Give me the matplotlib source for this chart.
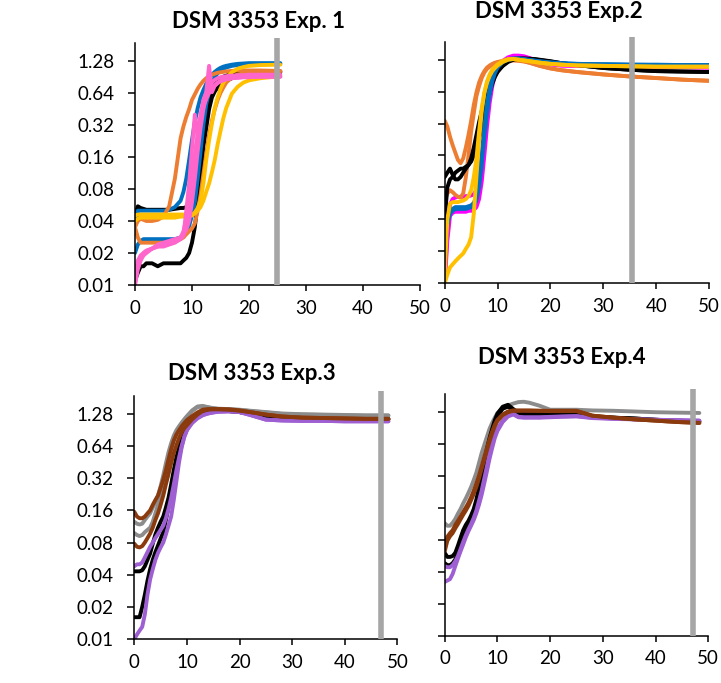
import numpy as np
import matplotlib
matplotlib.use("Agg")
import matplotlib.pyplot as plt

plt.rcParams['font.family'] = ['Lato', 'DejaVu Sans']

# Colours (Excel palette)
BLACK = "#000000"
BLUE = "#0070C0"
ORANGE = "#ED7D31"
GOLD = "#FFC000"
PINK = "#FF66CC"
MAGENTA = "#FF00FF"
GRAY = "#8C8C8C"
BROWN = "#8B3A0E"
PURPLE = "#9E5FD2"
BAR = "#A6A6A6"

# ---------------- Exp. 1 ----------------
t1 = [0, 0.5, 1, 1.5, 2, 3, 4, 5, 6, 7, 8, 8.5, 9, 9.5, 10, 10.5, 11, 11.5, 12, 12.5,
      13, 13.5, 14, 14.5, 15, 15.5, 16, 17, 18, 19, 20, 22, 25.5]
e1_black_a = [0.011, 0.013, 0.015, 0.015, 0.016, 0.016, 0.015, 0.016, 0.016, 0.016, 0.016, 0.017, 0.018,
              0.02, 0.025, 0.035, 0.06, 0.11, 0.2, 0.3, 0.45, 0.58, 0.66, 0.72, 0.77, 0.8, 0.83,
              0.88, 0.91, 0.94, 0.96, 0.98, 1.0]
e1_black_b = [0.045, 0.055, 0.053, 0.052, 0.051, 0.051, 0.051, 0.051, 0.051, 0.052, 0.053, 0.053, 0.054,
              0.055, 0.057, 0.065, 0.085, 0.15, 0.24, 0.42, 0.58, 0.7, 0.78, 0.84, 0.88, 0.91, 0.93,
              0.96, 0.98, 1.0, 1.01, 1.02, 1.02]
e1_blue_a = [0.035, 0.05, 0.05, 0.05, 0.05, 0.05, 0.05, 0.05, 0.051, 0.054, 0.062, 0.075, 0.1,
             0.15, 0.23, 0.34, 0.46, 0.58, 0.68, 0.78, 0.87, 0.95, 1.01, 1.06, 1.1, 1.13, 1.15,
             1.18, 1.2, 1.21, 1.22, 1.22, 1.22]
e1_blue_b = [0.02, 0.024, 0.026, 0.027, 0.027, 0.027, 0.027, 0.027, 0.027, 0.027, 0.028, 0.029, 0.031,
             0.036, 0.045, 0.06, 0.1, 0.18, 0.32, 0.5, 0.66, 0.8, 0.9, 0.98, 1.04, 1.08, 1.11,
             1.15, 1.17, 1.19, 1.2, 1.2, 1.2]
e1_orange_a = [0.035, 0.04, 0.042, 0.041, 0.04, 0.04, 0.041, 0.044, 0.055, 0.1, 0.24, 0.31, 0.38,
               0.45, 0.55, 0.62, 0.7, 0.77, 0.83, 0.88, 0.92, 0.95, 0.97, 0.99, 1.0, 1.01, 1.02,
               1.03, 1.04, 1.04, 1.04, 1.04, 1.03]
e1_orange_b = [0.035, 0.028, 0.025, 0.025, 0.025, 0.025, 0.025, 0.025, 0.025, 0.026, 0.027, 0.028, 0.03,
               0.032, 0.034, 0.038, 0.05, 0.07, 0.11, 0.17, 0.26, 0.35, 0.45, 0.55, 0.64, 0.72, 0.8,
               0.9, 0.95, 0.98, 1.0, 1.01, 1.02]
e1_gold_a = [0.045, 0.046, 0.046, 0.046, 0.046, 0.046, 0.046, 0.046, 0.046, 0.046, 0.046, 0.046, 0.046,
             0.046, 0.046, 0.047, 0.05, 0.054, 0.062, 0.075, 0.09, 0.115, 0.15, 0.21, 0.28, 0.37, 0.46,
             0.63, 0.73, 0.8, 0.84, 0.88, 0.92]
e1_gold_b = [0.04, 0.042, 0.043, 0.043, 0.043, 0.043, 0.043, 0.043, 0.043, 0.043, 0.044, 0.044, 0.044,
             0.045, 0.045, 0.048, 0.053, 0.062, 0.09, 0.15, 0.23, 0.33, 0.46, 0.58, 0.7, 0.8, 0.88,
             1.0, 1.08, 1.12, 1.15, 1.17, 1.18]
e1_pink_a = [0.01, 0.016, 0.018, 0.02, 0.021, 0.022, 0.023, 0.023, 0.024, 0.025, 0.027, 0.029, 0.05,
             0.09, 0.19, 0.4, 0.25, 0.4, 0.55, 0.65, 1.15, 0.65, 0.75, 0.8, 0.83, 0.85, 0.87,
             0.88, 0.89, 0.9, 0.9, 0.91, 0.91]
e1_pink_b = [0.012, 0.017, 0.019, 0.02, 0.021, 0.022, 0.023, 0.024, 0.025, 0.026, 0.028, 0.032, 0.042,
             0.065, 0.11, 0.17, 0.27, 0.37, 0.48, 0.56, 0.64, 0.7, 0.75, 0.79, 0.82, 0.84, 0.86,
             0.88, 0.89, 0.9, 0.9, 0.91, 0.91]
e1_pink_c = [0.01, 0.014, 0.017, 0.019, 0.02, 0.022, 0.024, 0.025, 0.026, 0.027, 0.028, 0.03, 0.033,
             0.04, 0.06, 0.1, 0.18, 0.3, 0.45, 0.6, 0.72, 0.8, 0.85, 0.88, 0.9, 0.91, 0.92,
             0.93, 0.94, 0.94, 0.95, 0.95, 0.95]

# ---------------- Exp. 2 ----------------
t2 = [0, 0.5, 1, 1.5, 2, 2.5, 3, 3.5, 4, 4.5, 5, 5.5, 6, 6.5, 7, 7.5, 8, 8.5, 9, 9.5, 10,
      11, 12, 13, 14, 15, 16, 17, 18, 20, 22, 25, 30, 35, 40, 45, 50]
e2_magenta_a = [0.012, 0.03, 0.055, 0.062, 0.064, 0.065, 0.065, 0.065, 0.066, 0.066, 0.067, 0.069, 0.075,
                0.095, 0.15, 0.26, 0.42, 0.62, 0.82, 0.98, 1.1, 1.25, 1.35, 1.4, 1.4, 1.38, 1.33,
                1.27, 1.22, 1.16, 1.13, 1.12, 1.11, 1.1, 1.09, 1.09, 1.08]
e2_magenta_b = [0.01, 0.025, 0.043, 0.046, 0.047, 0.047, 0.047, 0.047, 0.047, 0.048, 0.048, 0.049, 0.052,
                0.062, 0.09, 0.16, 0.3, 0.5, 0.72, 0.92, 1.06, 1.22, 1.32, 1.38, 1.38, 1.36, 1.32,
                1.27, 1.22, 1.16, 1.13, 1.12, 1.11, 1.1, 1.09, 1.09, 1.08]
e2_orange_a = [0.34, 0.3, 0.24, 0.2, 0.17, 0.145, 0.135, 0.15, 0.19, 0.25, 0.34, 0.48, 0.63,
               0.78, 0.9, 1.0, 1.08, 1.13, 1.17, 1.2, 1.22, 1.25, 1.27, 1.27, 1.26, 1.24, 1.2,
               1.16, 1.12, 1.06, 1.02, 0.98, 0.93, 0.89, 0.86, 0.83, 0.81]
e2_orange_b = [0.06, 0.07, 0.075, 0.072, 0.068, 0.065, 0.064, 0.07, 0.1, 0.16, 0.27, 0.4, 0.58,
               0.72, 0.86, 0.97, 1.05, 1.1, 1.15, 1.18, 1.2, 1.23, 1.25, 1.26, 1.25, 1.23, 1.2,
               1.16, 1.12, 1.06, 1.02, 0.98, 0.93, 0.89, 0.86, 0.83, 0.81]
e2_black_a = [0.1, 0.11, 0.12, 0.105, 0.095, 0.095, 0.1, 0.11, 0.12, 0.13, 0.14, 0.16, 0.19,
              0.23, 0.29, 0.38, 0.5, 0.62, 0.76, 0.88, 0.98, 1.13, 1.25, 1.3, 1.32, 1.32, 1.31,
              1.3, 1.28, 1.24, 1.19, 1.14, 1.07, 1.03, 1.0, 0.99, 0.98]
e2_black_b = [0.04, 0.08, 0.095, 0.1, 0.11, 0.115, 0.12, 0.12, 0.125, 0.13, 0.15, 0.19, 0.25,
              0.33, 0.42, 0.52, 0.62, 0.72, 0.82, 0.92, 1.0, 1.12, 1.22, 1.28, 1.3, 1.3, 1.3,
              1.29, 1.27, 1.23, 1.19, 1.14, 1.07, 1.03, 1.0, 0.99, 0.98]
e2_blue_a = [0.015, 0.035, 0.045, 0.048, 0.05, 0.05, 0.05, 0.05, 0.05, 0.051, 0.052, 0.054, 0.06,
             0.08, 0.13, 0.24, 0.4, 0.6, 0.8, 0.96, 1.08, 1.22, 1.3, 1.32, 1.32, 1.3, 1.28,
             1.26, 1.24, 1.21, 1.19, 1.17, 1.16, 1.15, 1.14, 1.14, 1.14]
e2_blue_b = [0.02, 0.04, 0.048, 0.05, 0.052, 0.052, 0.052, 0.052, 0.052, 0.053, 0.054, 0.057, 0.065,
             0.09, 0.16, 0.3, 0.5, 0.7, 0.88, 1.0, 1.1, 1.22, 1.28, 1.3, 1.3, 1.29, 1.27,
             1.25, 1.23, 1.2, 1.18, 1.17, 1.16, 1.15, 1.15, 1.14, 1.14]
e2_gold_a = [0.012, 0.04, 0.056, 0.058, 0.058, 0.058, 0.059, 0.06, 0.062, 0.066, 0.075, 0.1, 0.15,
             0.27, 0.45, 0.63, 0.8, 0.93, 1.03, 1.1, 1.16, 1.25, 1.3, 1.3, 1.28, 1.26, 1.24,
             1.22, 1.2, 1.17, 1.15, 1.13, 1.12, 1.11, 1.1, 1.1, 1.1]
e2_gold_b = [0.01, 0.012, 0.014, 0.015, 0.016, 0.017, 0.018, 0.019, 0.021, 0.023, 0.027, 0.045, 0.1,
             0.22, 0.42, 0.62, 0.78, 0.9, 1.0, 1.07, 1.13, 1.22, 1.28, 1.3, 1.28, 1.26, 1.24,
             1.22, 1.2, 1.17, 1.15, 1.13, 1.12, 1.11, 1.1, 1.1, 1.1]

# ---------------- Exp. 3 and 4 ----------------
t3 = [0, 0.5, 1, 1.5, 2, 2.5, 3, 3.5, 4, 4.5, 5, 5.5, 6, 6.5, 7, 7.5, 8, 8.5, 9, 9.5, 10,
      11, 12, 13, 14, 15, 16, 18, 20, 22, 25, 28, 32, 36, 40, 44, 48.3]
e3_gray_a = [0.125, 0.12, 0.118, 0.12, 0.13, 0.14, 0.15, 0.17, 0.19, 0.22, 0.27, 0.34, 0.44,
             0.56, 0.68, 0.8, 0.9, 0.98, 1.06, 1.14, 1.22, 1.38, 1.5, 1.52, 1.48, 1.45, 1.43,
             1.42, 1.4, 1.37, 1.33, 1.29, 1.27, 1.26, 1.25, 1.24, 1.24]
e3_gray_b = [0.098, 0.094, 0.092, 0.094, 0.1, 0.105, 0.11, 0.125, 0.15, 0.18, 0.22, 0.28, 0.37,
             0.48, 0.6, 0.72, 0.84, 0.95, 1.04, 1.12, 1.2, 1.36, 1.48, 1.5, 1.47, 1.44, 1.42,
             1.41, 1.39, 1.36, 1.32, 1.28, 1.26, 1.25, 1.24, 1.23, 1.23]
e3_black_a = [0.043, 0.043, 0.043, 0.044, 0.048, 0.055, 0.063, 0.078, 0.095, 0.11, 0.125, 0.14, 0.17,
              0.21, 0.28, 0.38, 0.5, 0.62, 0.76, 0.88, 0.98, 1.14, 1.26, 1.33, 1.36, 1.37, 1.37,
              1.36, 1.33, 1.28, 1.2, 1.17, 1.15, 1.15, 1.14, 1.14, 1.14]
e3_black_b = [0.016, 0.016, 0.016, 0.02, 0.026, 0.035, 0.045, 0.055, 0.065, 0.075, 0.087, 0.1, 0.13,
              0.17, 0.24, 0.33, 0.45, 0.58, 0.72, 0.85, 0.96, 1.12, 1.24, 1.32, 1.35, 1.36, 1.36,
              1.36, 1.33, 1.28, 1.2, 1.17, 1.15, 1.15, 1.14, 1.14, 1.14]
e3_purple_a = [0.048, 0.05, 0.05, 0.052, 0.058, 0.065, 0.073, 0.08, 0.088, 0.096, 0.105, 0.115, 0.135,
               0.165, 0.21, 0.28, 0.38, 0.5, 0.64, 0.78, 0.9, 1.05, 1.16, 1.24, 1.29, 1.32, 1.34,
               1.35, 1.33, 1.25, 1.13, 1.11, 1.1, 1.1, 1.09, 1.09, 1.09]
e3_purple_b = [0.01, 0.011, 0.012, 0.013, 0.017, 0.026, 0.036, 0.045, 0.055, 0.064, 0.072, 0.08, 0.095,
               0.115, 0.14, 0.2, 0.3, 0.45, 0.62, 0.78, 0.9, 1.08, 1.18, 1.25, 1.29, 1.32, 1.34,
               1.35, 1.33, 1.25, 1.13, 1.11, 1.1, 1.1, 1.09, 1.09, 1.09]
e3_brown_a = [0.155, 0.14, 0.135, 0.135, 0.14, 0.15, 0.16, 0.18, 0.2, 0.22, 0.26, 0.31, 0.38,
              0.48, 0.6, 0.72, 0.82, 0.9, 0.98, 1.05, 1.12, 1.22, 1.32, 1.4, 1.42, 1.42, 1.42,
              1.41, 1.38, 1.33, 1.26, 1.21, 1.18, 1.17, 1.16, 1.15, 1.15]
e3_brown_b = [0.078, 0.073, 0.072, 0.074, 0.08, 0.088, 0.097, 0.11, 0.13, 0.15, 0.18, 0.22, 0.28,
              0.35, 0.44, 0.55, 0.65, 0.76, 0.86, 0.94, 1.0, 1.14, 1.26, 1.36, 1.4, 1.41, 1.41,
              1.4, 1.37, 1.33, 1.26, 1.21, 1.18, 1.17, 1.16, 1.15, 1.15]

e4_gray = [0.114, 0.108, 0.108, 0.115, 0.125, 0.14, 0.155, 0.175, 0.195, 0.22, 0.25, 0.29, 0.34,
           0.42, 0.52, 0.62, 0.74, 0.88, 1.0, 1.12, 1.24, 1.38, 1.46, 1.52, 1.57, 1.58, 1.55,
           1.45, 1.33, 1.33, 1.33, 1.31, 1.3, 1.28, 1.26, 1.25, 1.24]
e4_black_a = [0.06, 0.055, 0.055, 0.056, 0.06, 0.07, 0.083, 0.098, 0.11, 0.12, 0.135, 0.155, 0.19,
              0.25, 0.33, 0.44, 0.57, 0.72, 0.88, 1.06, 1.22, 1.42, 1.48, 1.35, 1.24, 1.22, 1.21,
              1.21, 1.2, 1.2, 1.2, 1.15, 1.12, 1.1, 1.07, 1.05, 1.03]
e4_black_b = [0.048, 0.046, 0.046, 0.048, 0.052, 0.06, 0.07, 0.082, 0.095, 0.108, 0.12, 0.14, 0.17,
              0.22, 0.29, 0.38, 0.5, 0.64, 0.8, 0.98, 1.15, 1.36, 1.42, 1.32, 1.23, 1.21, 1.2,
              1.2, 1.2, 1.2, 1.2, 1.15, 1.12, 1.1, 1.07, 1.05, 1.03]
e4_purple_a = [0.045, 0.044, 0.044, 0.046, 0.05, 0.056, 0.065, 0.076, 0.088, 0.1, 0.112, 0.128, 0.15,
               0.185, 0.23, 0.3, 0.39, 0.52, 0.65, 0.78, 0.88, 1.05, 1.18, 1.22, 1.14, 1.13, 1.13,
               1.13, 1.14, 1.15, 1.16, 1.12, 1.1, 1.08, 1.07, 1.06, 1.05]
e4_purple_b = [0.032, 0.033, 0.034, 0.038, 0.045, 0.053, 0.062, 0.072, 0.084, 0.096, 0.108, 0.122, 0.142,
               0.17, 0.21, 0.27, 0.35, 0.46, 0.58, 0.72, 0.84, 1.02, 1.15, 1.2, 1.13, 1.12, 1.12,
               1.12, 1.13, 1.14, 1.15, 1.11, 1.09, 1.08, 1.07, 1.06, 1.05]
e4_brown_a = [0.068, 0.085, 0.092, 0.098, 0.11, 0.12, 0.132, 0.145, 0.16, 0.177, 0.2, 0.23, 0.27,
              0.32, 0.39, 0.48, 0.58, 0.7, 0.83, 0.96, 1.07, 1.2, 1.28, 1.31, 1.31, 1.31, 1.31,
              1.3, 1.3, 1.3, 1.3, 1.17, 1.12, 1.08, 1.05, 1.02, 1.0]
e4_brown_b = [0.062, 0.078, 0.086, 0.092, 0.102, 0.112, 0.124, 0.137, 0.15, 0.166, 0.188, 0.215, 0.25,
              0.3, 0.37, 0.45, 0.55, 0.67, 0.8, 0.93, 1.04, 1.18, 1.26, 1.3, 1.3, 1.3, 1.3,
              1.3, 1.29, 1.29, 1.29, 1.17, 1.12, 1.08, 1.05, 1.02, 1.0]

yticks = [0.01, 0.02, 0.04, 0.08, 0.16, 0.32, 0.64, 1.28]
ytick_labels = ["0.01", "0.02", "0.04", "0.08", "0.16", "0.32", "0.64", "1.28"]
xticks = [0, 10, 20, 30, 40, 50]

panels = [
    dict(title="DSM 3353 Exp. 1", t=t1, bar=25.0, rect=[0.1872, 0.5827, 0.3953, 0.3616],
         title_xy=(259, 22), labels=True,
         series=[(e1_black_a, BLACK), (e1_black_b, BLACK), (e1_blue_a, BLUE), (e1_blue_b, BLUE),
                 (e1_orange_a, ORANGE), (e1_orange_b, ORANGE), (e1_gold_a, GOLD), (e1_gold_b, GOLD),
                 (e1_pink_a, PINK), (e1_pink_b, PINK), (e1_pink_c, PINK)]),
    dict(title="DSM 3353 Exp.2", t=t2, bar=35.4, rect=[0.6168, 0.5857, 0.3666, 0.3602],
         title_xy=(559, 11), labels=False,
         series=[(e2_magenta_a, MAGENTA), (e2_magenta_b, MAGENTA), (e2_orange_a, ORANGE),
                 (e2_orange_b, ORANGE), (e2_black_a, BLACK), (e2_black_b, BLACK),
                 (e2_blue_a, BLUE), (e2_blue_b, BLUE), (e2_gold_a, GOLD), (e2_gold_b, GOLD)]),
    dict(title="DSM 3353 Exp.3", t=t3, bar=46.9, rect=[0.1863, 0.0644, 0.3648, 0.3633],
         title_xy=(252, 373), labels=True,
         series=[(e3_gray_a, GRAY), (e3_gray_b, GRAY), (e3_black_a, BLACK), (e3_black_b, BLACK),
                 (e3_purple_a, PURPLE), (e3_purple_b, PURPLE), (e3_brown_a, BROWN), (e3_brown_b, BROWN)]),
    dict(title="DSM 3353 Exp.4", t=t3, bar=47.1, rect=[0.6168, 0.0693, 0.3656, 0.3617],
         title_xy=(562, 357), labels=False,
         series=[(e4_gray, GRAY), (e4_black_a, BLACK), (e4_black_b, BLACK), (e4_purple_a, PURPLE),
                 (e4_purple_b, PURPLE), (e4_brown_a, BROWN), (e4_brown_b, BROWN)]),
]

W, H = 721, 683
fig = plt.figure(figsize=(W / 100, H / 100), dpi=100)

for p in panels:
    ax = fig.add_axes(p["rect"])
    for vals, col in p["series"]:
        ax.plot(p["t"], vals, color=col, lw=2.8, solid_capstyle="round", solid_joinstyle="round")
    ax.axvline(p["bar"], color=BAR, lw=4, zorder=5)

    ax.set_yscale("log", base=2)
    ax.set_ylim(0.01, 2.1)
    ax.set_xlim(0, 50)
    ax.set_yticks(yticks)
    ax.minorticks_off()
    if p["labels"]:
        ax.set_yticklabels(ytick_labels)
    else:
        ax.set_yticklabels([])
    ax.set_xticks(xticks)

    for s in ["top", "right"]:
        ax.spines[s].set_visible(False)
    ax.spines["left"].set_bounds(0.01, 1.88)
    ax.spines["left"].set_linewidth(1.1)
    ax.spines["bottom"].set_linewidth(1.1)
    ax.tick_params(axis="y", direction="out", length=5, width=1.1, labelsize=13.5, pad=10)
    ax.tick_params(axis="x", direction="out", length=4.5, width=1.1, labelsize=13.5, pad=6)

    fig.text(p["title_xy"][0] / W, 1 - p["title_xy"][1] / H, p["title"],
             ha="center", va="center", fontsize=16, fontweight="bold")

fig.savefig("out.png", dpi=100)
